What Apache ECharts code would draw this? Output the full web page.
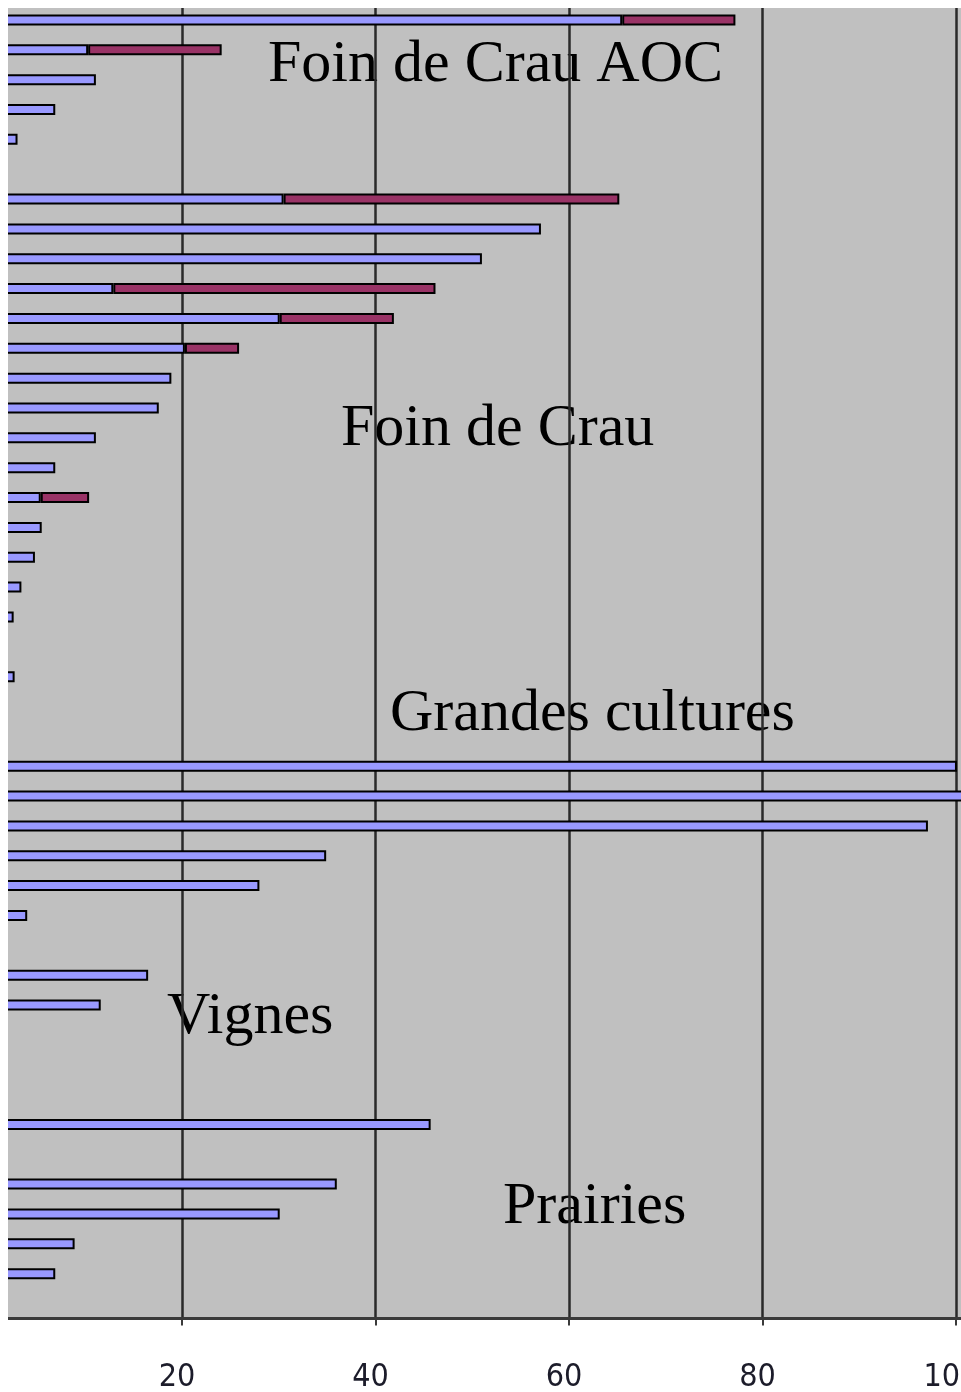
<!DOCTYPE html>
<html>
<head>
<meta charset="utf-8">
<script src="https://cdn.jsdelivr.net/npm/echarts@6/dist/echarts.min.js"></script>
<style>
html,body{margin:0;padding:0;background:#ffffff;}
#chart{width:961px;height:1392px;}
</style>
</head>
<body>
<div id="chart"></div>
<script>
// ---- data ----
const categories = ["1","2","3","4","5","6","7","8","9","10","11","12","13","14","15","16","17","18","19","20","21","22","23","24","25","26","27","28","29","30","31","32","33","34","35","36","37","38","39","40","41","42","43","44"];
const blueValues = [65.5,10.3,11.1,6.9,3.0,null,30.5,57.1,51.0,12.9,30.1,20.3,18.9,17.6,11.1,6.9,5.4,5.5,4.8,3.4,2.6,null,2.7,null,null,100.1,104,97.1,34.9,28.0,4.0,null,16.5,11.6,null,null,null,45.7,null,36.0,30.1,8.9,6.9,null];
const redValues  = [11.7,13.8,null,null,null,null,34.7,null,null,33.3,11.8,5.6,null,null,null,null,5.0,null,null,null,null,null,null,null,null,null,null,null,null,null,null,null,null,null,null,null,null,null,null,null,null,null,null,null];
const tickValues = [0,20,40,60,80,100,120];
const groupLabels = ["Foin de Crau AOC","Foin de Crau","Grandes cultures","Vignes","Prairies"];

// ---- layout / style ----
const annotPos = [[268,65],[341,429],[390,714],[167,1017],[503,1207]];
const chart = echarts.init(document.getElementById('chart'), null, {renderer:'canvas'});

const graphics = groupLabels.map((t,i)=>({
  type:'text', x:annotPos[i][0], y:annotPos[i][1], z:1,
  style:{text:t, fontFamily:"'Liberation Serif','Times New Roman',serif", fontSize:60, fill:'#000', align:'left', verticalAlign:'middle'}
}));
graphics.push({type:'rect', shape:{x:0,y:0,width:8,height:1392}, style:{fill:'#ffffff'}, z:100});
graphics.push({type:'rect', shape:{x:0,y:0,width:961,height:8}, style:{fill:'#ffffff'}, z:100});

const option = {
  animation:false,
  backgroundColor:'#ffffff',
  grid:{left:-11.5, top:5, width:1161, height:1313.4, show:true, backgroundColor:'#c0c0c0', borderWidth:0, z:0,
        containLabel:false, outerBoundsMode:'none'},
  xAxis:{
    type:'value', min:tickValues[0], max:tickValues[tickValues.length-1], interval:20, z:2,
    axisLine:{show:true, onZero:false, lineStyle:{color:'#3a3a3a', width:3}},
    axisTick:{show:true, length:7, lineStyle:{color:'#3a3a3a', width:2}},
    splitLine:{show:true, lineStyle:{color:'#2a2a2a', width:2.5}},
    axisLabel:{show:true, margin:43, color:'#1c1c2a', fontSize:32,
      fontFamily:"'DejaVu Sans Condensed','Liberation Sans Narrow','Liberation Sans',sans-serif",
      padding:[0,10,0,0]}
  },
  yAxis:{
    type:'category', data:categories, inverse:true,
    axisLine:{show:false}, axisTick:{show:false}, axisLabel:{show:false}, splitLine:{show:false}
  },
  series:[
    {type:'bar', stack:'s', data:blueValues, barWidth:11, z:3,
     itemStyle:{color:'#9999ff', borderColor:'#000', borderWidth:2}},
    {type:'bar', stack:'s', data:redValues, barWidth:11, z:3,
     itemStyle:{color:'#993366', borderColor:'#000', borderWidth:2}}
  ],
  graphic:graphics
};
chart.setOption(option);
</script>
</body>
</html>
